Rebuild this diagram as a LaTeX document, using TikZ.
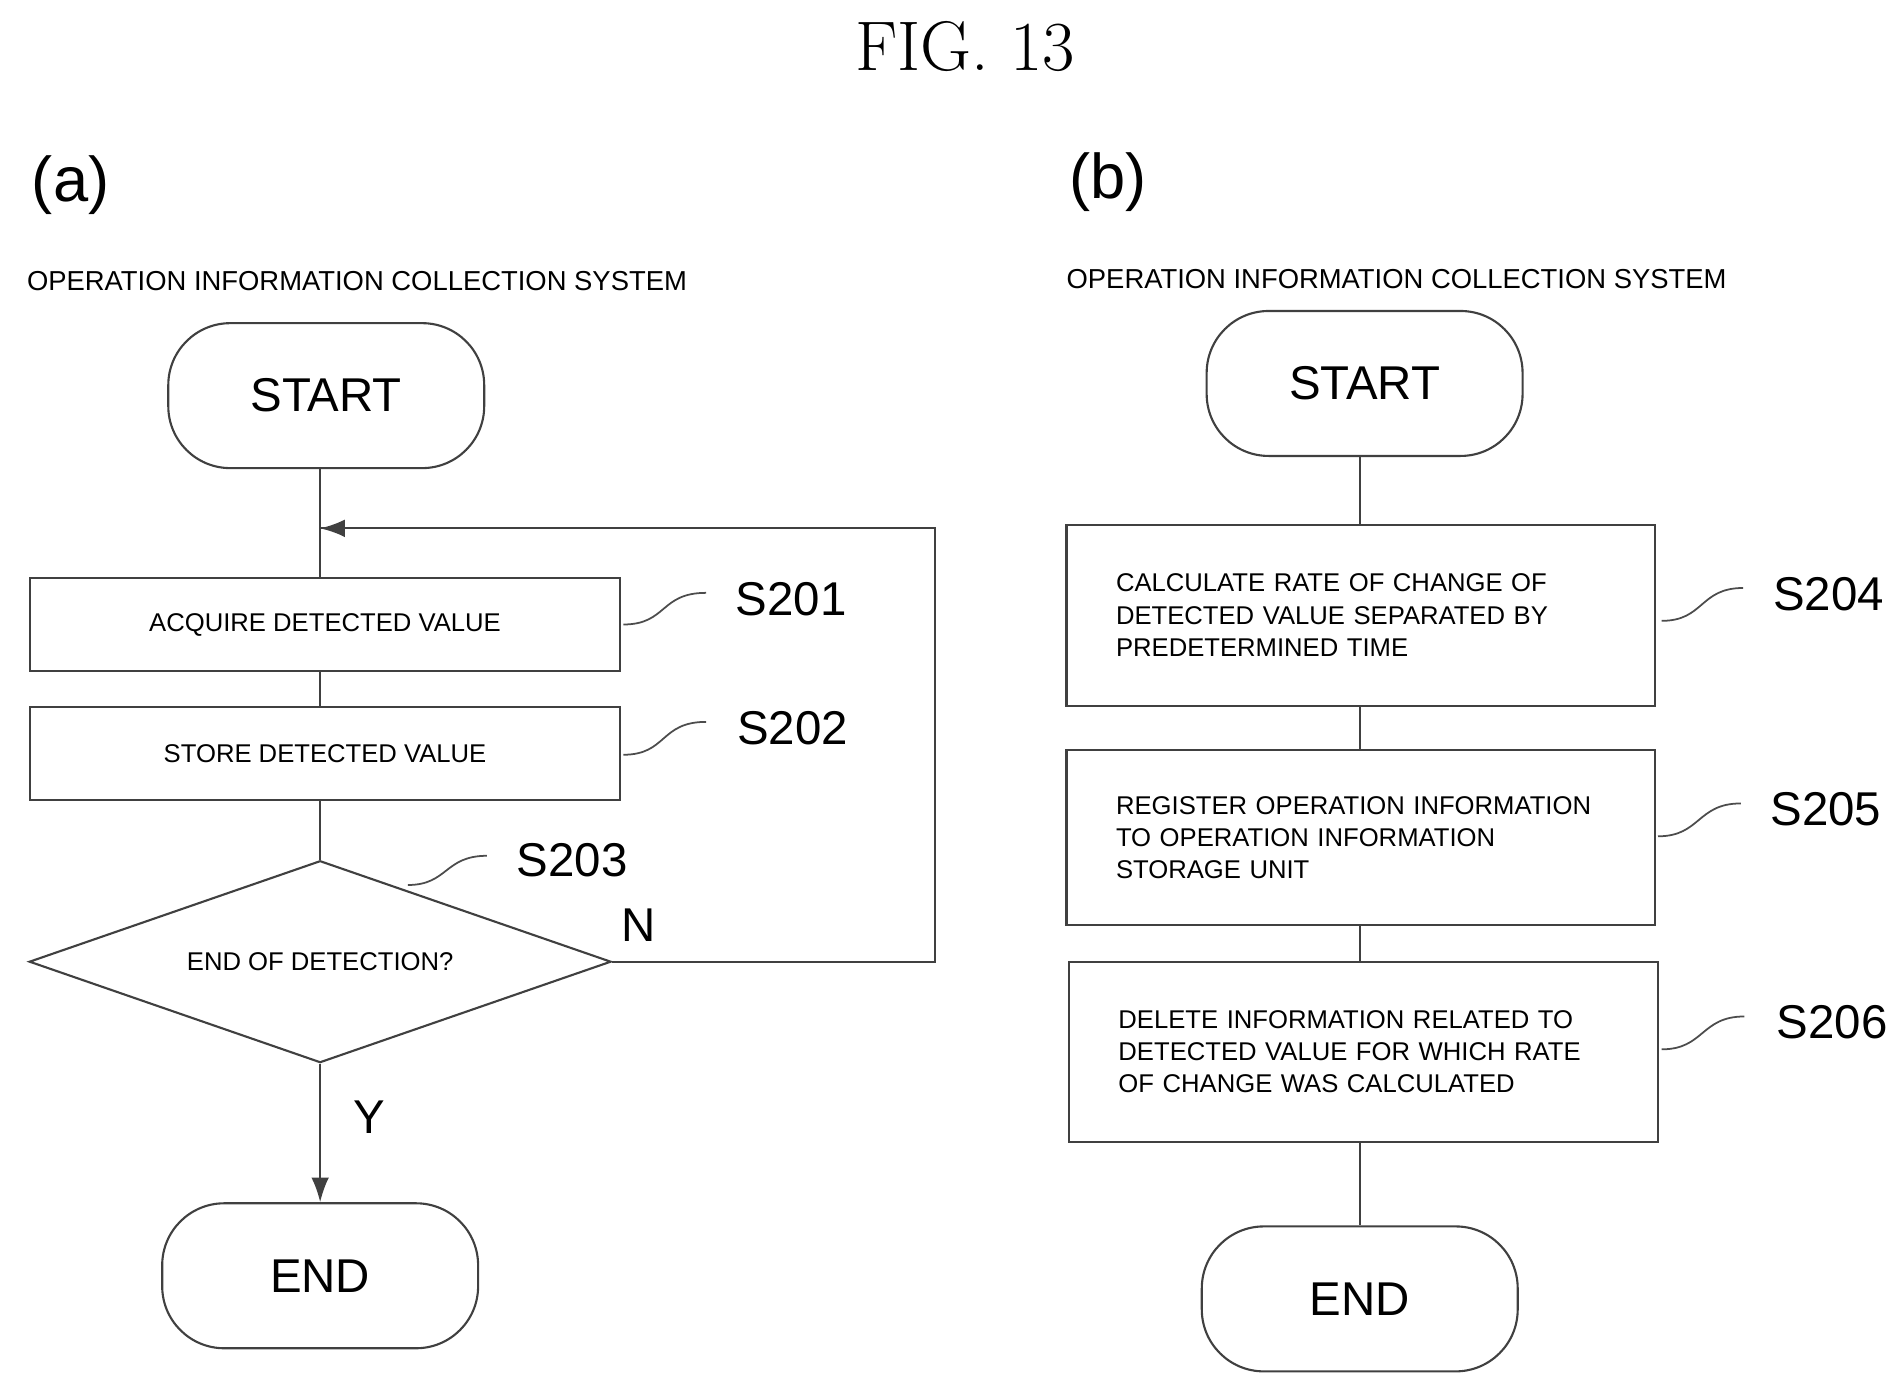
\documentclass[tikz,border=0pt]{standalone}
\usepackage{fontspec}
\setmainfont{Liberation Sans}
\newfontfamily\figfont{Latin Modern Roman}
\usetikzlibrary{shapes.geometric,arrows.meta}
\tikzset{
  flow/.style={draw=black!75, line width=0.6pt},
  term/.style={flow, rounded corners=0.62cm, minimum width=3.16cm, minimum height=1.45cm, font=\fontsize{13.5}{15}\selectfont},
  stepa/.style={flow, minimum width=5.9cm, minimum height=0.925cm, font=\fontsize{7.3}{9}\selectfont},
  stepb/.style={flow, minimum width=5.89cm, text width=4.9cm, align=left, font=\fontsize{7.3}{9.2}\selectfont},
  cond/.style={flow, diamond, aspect=2.88, inner sep=0pt, minimum width=5.82cm, minimum height=2.02cm, font=\fontsize{7.3}{9}\selectfont},
  steplabel/.style={font=\fontsize{13.5}{15}\selectfont},
  sysname/.style={font=\fontsize{7.8}{9}\selectfont, anchor=west},
  panel/.style={font=\fontsize{18}{20}\selectfont},
  link/.style={draw=black!75, line width=0.6pt},
  squig/.style={draw=black!70, line width=0.5pt}
}
\begin{document}
\begin{tikzpicture}[x=0.01217cm, y=-0.01217cm]
  \useasboundingbox (0,0) rectangle (1560,1140);
  \node[font=\figfont\fontsize{20}{22}\selectfont] (title) at (793,38) {FIG. 13};

  % panel (a)
  \node[panel] (pa) at (58,152) {(a)};
  \node[sysname] (sysa) at (12,231) {OPERATION INFORMATION COLLECTION SYSTEM};
  \node[term] (starta) at (268,325) {START};
  \node[stepa] (s201) at (267,513) {ACQUIRE DETECTED VALUE};
  \node[stepa] (s202) at (267,619) {STORE DETECTED VALUE};
  \node[cond] (s203) at (263,790) {END OF DETECTION?};
  \node[term] (enda) at (263,1048) {END};
  \coordinate (loopin) at (263,434);
  \coordinate (loopr) at (768,434);
  \coordinate (loopd) at (768,790);
  \draw[link] (starta.south -| loopin) -- (s201.north -| loopin);
  \draw[link] (s201.south -| loopin) -- (s202.north -| loopin);
  \draw[link] (s202.south -| loopin) -- (s203.north);
  \draw[link] (s203.east) -- (loopd) -- (loopr) -- (loopin);
  \draw[link, -{Latex[length=7pt,width=5pt]}] (loopr) -- (loopin);
  \draw[link, -{Latex[length=7pt,width=5pt]}] (s203.south) -- (enda.north);
  \node[steplabel] (lN) at (525,760) {N};
  \node[steplabel] (lY) at (303,918) {Y};
  \node[steplabel] (l201) at (650,492) {S201};
  \node[steplabel] (l202) at (651,598) {S202};
  \node[steplabel] (l203) at (470,707) {S203};
  \draw[squig] (512,513) .. controls (548,513) and (542,487) .. (580,487);
  \draw[squig] (512,620) .. controls (548,620) and (542,593) .. (580,593);
  \draw[squig] (335,727) .. controls (368,727) and (365,703) .. (400,703);

  % panel (b)
  \node[panel] (pb) at (910,150) {(b)};
  \node[sysname] (sysb) at (866,229) {OPERATION INFORMATION COLLECTION SYSTEM};
  \node[term] (startb) at (1121,315) {START};
  \node[stepb, minimum height=1.81cm] (s204) at (1118,505.5) {CALCULATE RATE OF CHANGE OF\\DETECTED VALUE SEPARATED BY\\PREDETERMINED TIME\\[4pt]};
  \node[stepb, minimum height=1.75cm] (s205) at (1118,688) {REGISTER OPERATION INFORMATION\\TO OPERATION INFORMATION\\STORAGE UNIT\\[4pt]};
  \node[stepb, minimum height=1.80cm] (s206) at (1120,864) {DELETE INFORMATION RELATED TO\\DETECTED VALUE FOR WHICH RATE\\OF CHANGE WAS CALCULATED\\[4pt]};
  \node[term] (endb) at (1117,1067) {END};
  \draw[link] (startb.south -| endb) -- (s204.north -| endb);
  \draw[link] (s204.south -| endb) -- (s205.north -| endb);
  \draw[link] (s205.south -| endb) -- (s206.north -| endb);
  \draw[link] (s206.south -| endb) -- (endb.north);
  \node[steplabel] (l204) at (1502,488) {S204};
  \node[steplabel] (l205) at (1500,665) {S205};
  \node[steplabel] (l206) at (1505,840) {S206};
  \draw[squig] (1365,510) .. controls (1400,510) and (1396,483) .. (1432,483);
  \draw[squig] (1362,687) .. controls (1397,687) and (1394,660) .. (1430,660);
  \draw[squig] (1365,862) .. controls (1400,862) and (1397,835) .. (1433,835);
\end{tikzpicture}
\end{document}
